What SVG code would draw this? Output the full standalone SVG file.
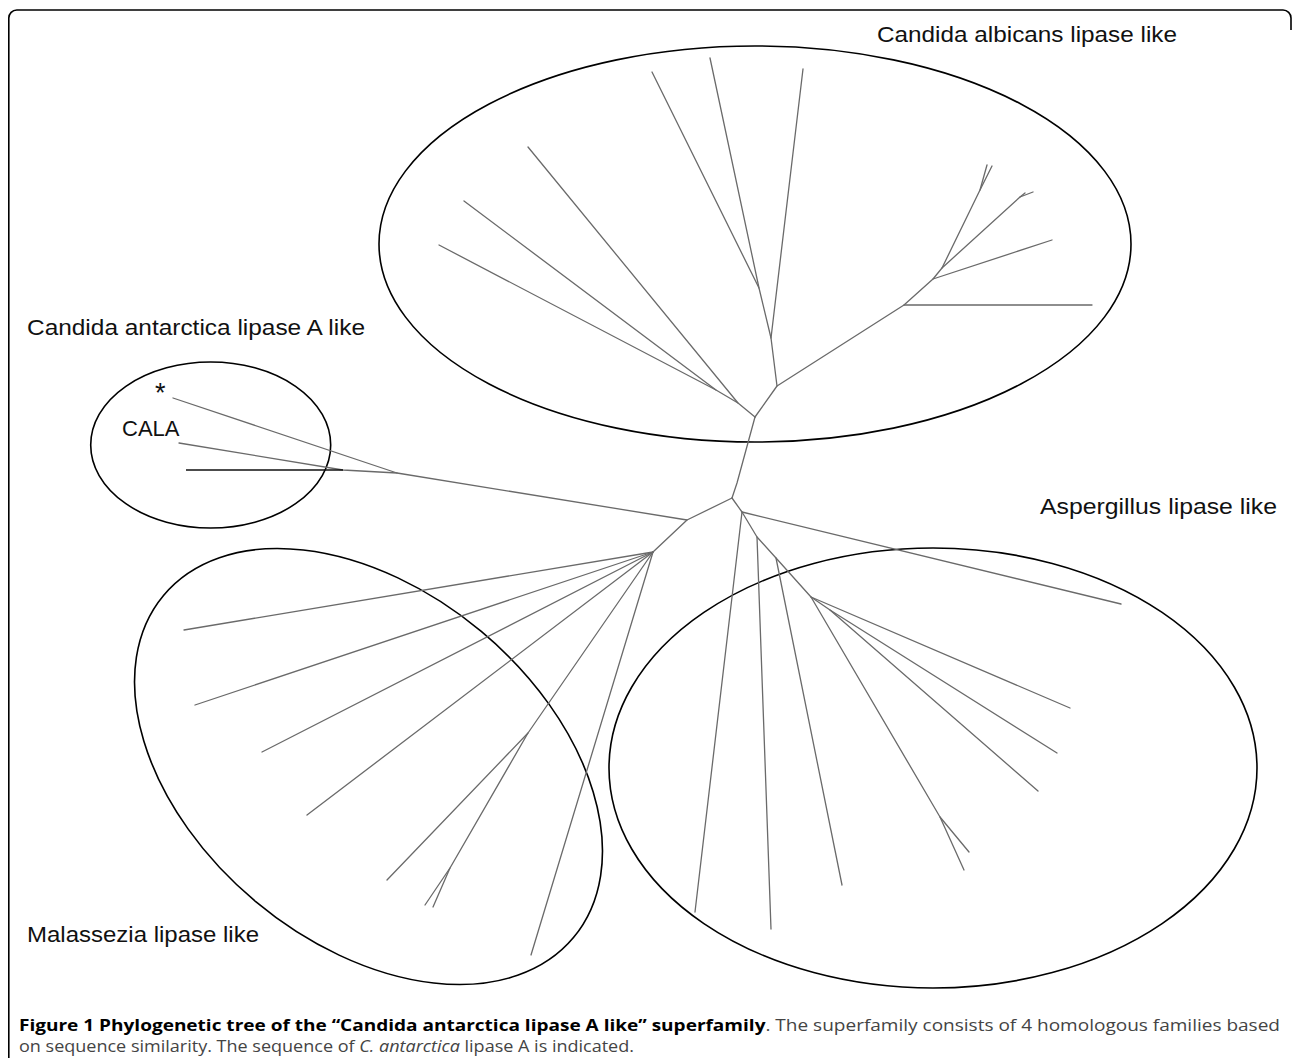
<svg xmlns="http://www.w3.org/2000/svg" width="1293" height="1058" viewBox="0 0 1293 1058">
<style>
.br{fill:none;stroke:#6a6a6a;stroke-width:1.3;stroke-linecap:round;stroke-linejoin:round}
.dk{fill:none;stroke:#111;stroke-width:1.3}
.el{fill:none;stroke:#000;stroke-width:1.6}
.lb{font-family:"Liberation Sans",Arial,sans-serif;font-size:22px;fill:#111}
.cap{font-family:"Open Sans","DejaVu Sans",sans-serif;font-size:16px;fill:#444}
</style>
<rect width="1293" height="1058" fill="#fff"/>
<path d="M8.8,1058 V18 A8,8 0 0 1 16.8,10 H1283 A8,8 0 0 1 1291,18 V30" fill="none" stroke="#000" stroke-width="1.6"/>

<g id="clusters">
<ellipse id="cl-albicans" class="el" cx="755" cy="244" rx="376" ry="198"/>
<ellipse id="cl-cala" class="el" cx="210.7" cy="445" rx="120" ry="83"/>
<ellipse id="cl-malassezia" class="el" cx="368.5" cy="766.5" rx="267" ry="176" transform="rotate(39.85 368.5 766.5)"/>
<ellipse id="cl-aspergillus" class="el" cx="933" cy="768" rx="324" ry="220"/>
</g>

<g id="connectors">
<polyline class="br" points="732,498 737,483 755,417"/>
<polyline class="br" points="755,417 738,403 528,147"/>
<polyline class="br" points="738,403 716,390 464,201"/>
<polyline class="br" points="716,390 439,245"/>
<polyline class="br" points="755,417 777,386 771,338 759,288 710,58"/>
<polyline class="br" points="759,288 652,72"/>
<polyline class="br" points="771,338 803,69"/>
<polyline class="br" points="777,386 904,305 1092,305"/>
<polyline class="br" points="904,305 933,279 1052,240"/>
<polyline class="br" points="933,279 942,268 980,190 987,165"/>
<polyline class="br" points="980,190 992,166"/>
<polyline class="br" points="942,268 1020,197 1033,192"/>
<polyline class="br" points="1020,197 1025,193"/>
<polyline class="br" points="732,498 687,520 397,473 173,398"/>
<polyline class="br" points="397,473 343,470 179,443"/>
<line class="dk" x1="343" y1="470" x2="186" y2="470"/>
<polyline class="br" points="687,520 653,552 184,630"/>
<polyline class="br" points="653,552 195,705"/>
<polyline class="br" points="653,552 262,752"/>
<polyline class="br" points="653,552 307,815"/>
<polyline class="br" points="653,552 528,733 387,880"/>
<polyline class="br" points="528,733 450,868 425,905"/>
<polyline class="br" points="450,868 433,907"/>
<polyline class="br" points="653,552 531,955"/>
<polyline class="br" points="732,498 742,512 1121,604"/>
<polyline class="br" points="742,512 695,912"/>
<polyline class="br" points="742,512 757,537 771,929"/>
<polyline class="br" points="757,537 776,558 842,885"/>
<polyline class="br" points="776,558 811,597 1070,708"/>
<polyline class="br" points="811,597 830,610 1057,753"/>
<polyline class="br" points="830,610 1038,791"/>
<polyline class="br" points="811,597 940,817 969,852"/>
<polyline class="br" points="940,817 964,870"/>
</g>

<g id="labels">
<text id="t-albicans" class="lb" x="877" y="42" textLength="300" lengthAdjust="spacingAndGlyphs">Candida albicans lipase like</text>
<text id="t-cala-fam" class="lb" x="27" y="335" textLength="338" lengthAdjust="spacingAndGlyphs">Candida antarctica lipase A like</text>
<text id="t-asp" class="lb" x="1040" y="514" textLength="237" lengthAdjust="spacingAndGlyphs">Aspergillus lipase like</text>
<text id="t-mal" class="lb" x="27" y="942" textLength="232" lengthAdjust="spacingAndGlyphs">Malassezia lipase like</text>
<text id="t-star" class="lb" x="155" y="402" style="font-size:27px">*</text>
<text id="t-cala" class="lb" x="122" y="436">CALA</text>
</g>

<g id="caption">
<text class="cap" x="19" y="1031" textLength="1261" lengthAdjust="spacingAndGlyphs"><tspan font-weight="bold" fill="#000">Figure 1 Phylogenetic tree of the “Candida antarctica lipase A like” superfamily</tspan>. The superfamily consists of 4 homologous families based</text>
<text class="cap" x="19" y="1052" textLength="615" lengthAdjust="spacingAndGlyphs">on sequence similarity. The sequence of <tspan font-style="italic">C. antarctica</tspan> lipase A is indicated.</text>
</g>
</svg>
